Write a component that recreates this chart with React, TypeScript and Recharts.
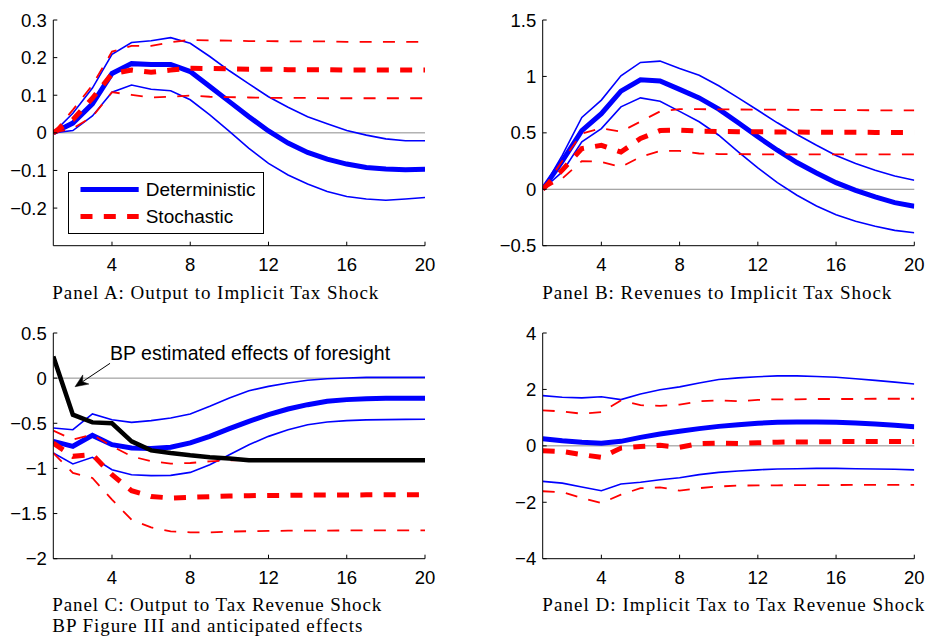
import React from 'react';
import { LineChart, Line, XAxis, YAxis, ReferenceLine, Legend } from 'recharts';

// ---------- data (horizon 1..20) ----------
const horizon = [1, 2, 3, 4, 5, 6, 7, 8, 9, 10, 11, 12, 13, 14, 15, 16, 17, 18, 19, 20];
const xTicks = [4, 8, 12, 16, 20];

// Panel A: Output to Implicit Tax Shock
const aDet = [0, 0.026, 0.077, 0.158, 0.184, 0.182, 0.182, 0.163, 0.123, 0.083, 0.043, 0.005, -0.027, -0.052, -0.07, -0.083, -0.092, -0.096, -0.098, -0.097];
const aDetHi = [0, 0.052, 0.119, 0.209, 0.24, 0.245, 0.253, 0.238, 0.203, 0.165, 0.13, 0.096, 0.068, 0.043, 0.024, 0.006, -0.006, -0.016, -0.021, -0.021];
const aDetLo = [0, 0.006, 0.045, 0.108, 0.127, 0.116, 0.112, 0.088, 0.048, 0.004, -0.041, -0.081, -0.112, -0.136, -0.156, -0.169, -0.176, -0.179, -0.176, -0.172];
const aSto = [0, 0.035, 0.092, 0.157, 0.167, 0.161, 0.167, 0.172, 0.171, 0.17, 0.169, 0.169, 0.168, 0.168, 0.168, 0.167, 0.167, 0.167, 0.167, 0.167];
const aStoHi = [0, 0.061, 0.127, 0.216, 0.231, 0.231, 0.241, 0.247, 0.246, 0.245, 0.244, 0.244, 0.243, 0.243, 0.243, 0.242, 0.242, 0.242, 0.242, 0.242];
const aStoLo = [0, 0.012, 0.043, 0.108, 0.101, 0.094, 0.096, 0.099, 0.096, 0.095, 0.094, 0.093, 0.093, 0.093, 0.092, 0.092, 0.092, 0.092, 0.092, 0.092];
const aYTicks = [-0.2, -0.1, 0, 0.1, 0.2, 0.3];

// Panel B: Revenues to Implicit Tax Shock
const bDet = [0, 0.25, 0.52, 0.67, 0.87, 0.97, 0.96, 0.885, 0.81, 0.71, 0.59, 0.465, 0.346, 0.237, 0.145, 0.059, -0.009, -0.068, -0.118, -0.151];
const bDetHi = [0, 0.3, 0.636, 0.79, 1.006, 1.124, 1.136, 1.07, 1.01, 0.917, 0.81, 0.7, 0.589, 0.485, 0.39, 0.3, 0.228, 0.169, 0.118, 0.08];
const bDetLo = [0, 0.154, 0.42, 0.538, 0.73, 0.81, 0.78, 0.69, 0.598, 0.479, 0.331, 0.189, 0.059, -0.053, -0.148, -0.225, -0.284, -0.328, -0.364, -0.385];
const bSto = [0, 0.17, 0.36, 0.39, 0.33, 0.45, 0.52, 0.524, 0.515, 0.512, 0.51, 0.509, 0.508, 0.507, 0.506, 0.505, 0.505, 0.504, 0.503, 0.503];
const bStoHi = [0, 0.25, 0.494, 0.54, 0.51, 0.6, 0.69, 0.71, 0.71, 0.708, 0.707, 0.706, 0.705, 0.704, 0.703, 0.702, 0.701, 0.7, 0.7, 0.7];
const bStoLo = [0, 0.095, 0.25, 0.243, 0.198, 0.287, 0.34, 0.34, 0.317, 0.312, 0.311, 0.31, 0.31, 0.31, 0.31, 0.31, 0.31, 0.31, 0.31, 0.31];
const bYTicks = [-0.5, 0, 0.5, 1, 1.5];

// Panel C: Output to Tax Revenue Shock
const cDet = [-0.7, -0.755, -0.634, -0.737, -0.774, -0.78, -0.766, -0.718, -0.645, -0.56, -0.478, -0.404, -0.342, -0.294, -0.257, -0.238, -0.228, -0.224, -0.224, -0.224];
const cDetHi = [-0.553, -0.571, -0.397, -0.46, -0.49, -0.471, -0.441, -0.397, -0.312, -0.22, -0.139, -0.091, -0.054, -0.024, -0.006, 0.001, 0.008, 0.009, 0.009, 0.009];
const cDetLo = [-0.83, -0.951, -0.877, -1.014, -1.07, -1.08, -1.077, -1.044, -0.959, -0.848, -0.737, -0.645, -0.571, -0.516, -0.486, -0.471, -0.462, -0.459, -0.457, -0.456];
const cSto = [-0.72, -0.866, -0.848, -1.07, -1.247, -1.31, -1.328, -1.32, -1.313, -1.305, -1.302, -1.3, -1.298, -1.296, -1.295, -1.294, -1.293, -1.292, -1.291, -1.29];
const cStoHi = [-0.582, -0.68, -0.626, -0.755, -0.866, -0.921, -0.947, -0.94, -0.921, -0.91, -0.905, -0.904, -0.903, -0.903, -0.903, -0.903, -0.903, -0.903, -0.903, -0.903];
const cStoLo = [-0.83, -1.05, -1.106, -1.346, -1.568, -1.653, -1.697, -1.708, -1.708, -1.7, -1.695, -1.692, -1.69, -1.689, -1.688, -1.687, -1.687, -1.686, -1.686, -1.686];
const cBP = [0.24, -0.405, -0.49, -0.5, -0.7, -0.8, -0.83, -0.855, -0.875, -0.89, -0.91, -0.91, -0.91, -0.91, -0.91, -0.91, -0.91, -0.91, -0.91, -0.91];
const cYTicks = [-2, -1.5, -1, -0.5, 0, 0.5];

// Panel D: Implicit Tax to Tax Revenue Shock
const dDet = [0.254, 0.18, 0.124, 0.089, 0.16, 0.3, 0.42, 0.514, 0.61, 0.69, 0.75, 0.8, 0.833, 0.845, 0.845, 0.833, 0.81, 0.774, 0.727, 0.68];
const dDetHi = [1.78, 1.72, 1.7, 1.74, 1.64, 1.84, 1.99, 2.09, 2.23, 2.35, 2.41, 2.45, 2.48, 2.48, 2.46, 2.43, 2.38, 2.32, 2.26, 2.19];
const dDetLo = [-1.26, -1.32, -1.46, -1.59, -1.35, -1.29, -1.2, -1.13, -1.02, -0.94, -0.89, -0.85, -0.82, -0.81, -0.8, -0.8, -0.81, -0.82, -0.83, -0.85];
const dSto = [-0.17, -0.2, -0.31, -0.41, -0.08, -0.02, 0.02, -0.05, 0.08, 0.1, 0.08, 0.11, 0.13, 0.14, 0.14, 0.15, 0.15, 0.15, 0.15, 0.15];
const dStoHi = [1.26, 1.22, 1.14, 1.2, 1.61, 1.44, 1.42, 1.46, 1.58, 1.61, 1.58, 1.63, 1.65, 1.65, 1.66, 1.66, 1.66, 1.67, 1.67, 1.67];
const dStoLo = [-1.61, -1.64, -1.85, -2.03, -1.73, -1.5, -1.47, -1.59, -1.5, -1.44, -1.41, -1.4, -1.4, -1.39, -1.39, -1.39, -1.38, -1.38, -1.38, -1.38];
const dYTicks = [-4, -2, 0, 2, 4];

const captions = {
  a: ['Panel A: Output to Implicit Tax Shock'],
  b: ['Panel B: Revenues to Implicit Tax Shock'],
  c: ['Panel C: Output to Tax Revenue Shock', 'BP Figure III and anticipated effects'],
  d: ['Panel D: Implicit Tax to Tax Revenue Shock'],
};
const annotationText = 'BP estimated effects of foresight';

// ---------- build tables ----------
function buildRows(det: number[], detHi: number[], detLo: number[], sto: number[], stoHi: number[], stoLo: number[], bp?: number[]) {
  return horizon.map((h, i) => {
    const r: any = { h, det: det[i], detHi: detHi[i], detLo: detLo[i], sto: sto[i], stoHi: stoHi[i], stoLo: stoLo[i] };
    if (bp) r.bp = bp[i];
    return r;
  });
}
const rowsA = buildRows(aDet, aDetHi, aDetLo, aSto, aStoHi, aStoLo);
const rowsB = buildRows(bDet, bDetHi, bDetLo, bSto, bStoHi, bStoLo);
const rowsC = buildRows(cDet, cDetHi, cDetLo, cSto, cStoHi, cStoLo, cBP);
const rowsD = buildRows(dDet, dDetHi, dDetLo, dSto, dStoHi, dStoLo);

// ---------- styles ----------
const SANS = '"Liberation Sans", Arial, Helvetica, sans-serif';
const SERIF = '"Liberation Serif", "Times New Roman", serif';
const BLUE = '#0000ff';
const RED = '#ff0000';
const DASH = '12 11.3';
const CW = 464;
const CH = 290;
const XH = 30;
const TICK = -4;

const fmt = (v: number) => (v < 0 ? '\u2212' + String(Math.abs(v)) : String(v));

function ArrowShape(p: any) {
  const { x1, y1, x2, y2 } = p;
  if ([x1, y1, x2, y2].some((v) => typeof v !== 'number' || isNaN(v))) return <g />;
  const dx = x2 - x1;
  const dy = y2 - y1;
  const len = Math.sqrt(dx * dx + dy * dy) || 1;
  const ux = dx / len;
  const uy = dy / len;
  const nx = -uy;
  const ny = ux;
  const L = 13;
  const W = 5.5;
  const bx = x2 - ux * L;
  const by = y2 - uy * L;
  const mx = x2 - ux * L * 0.7;
  const my = y2 - uy * L * 0.7;
  return (
    <g>
      <line x1={x1} y1={y1} x2={mx} y2={my} stroke="#000" strokeWidth={1} />
      <polygon points={`${x2},${y2} ${bx + nx * W},${by + ny * W} ${mx},${my} ${bx - nx * W},${by - ny * W}`} fill="#000" stroke="#000" strokeWidth={0.5} />
      <text x={x1} y={y1 - 3.5} fontFamily={SANS} fontSize={19.5} fill="#000">{annotationText}</text>
    </g>
  );
}

function LegendBox(props: any) {
  const items = (props.payload || []).filter((e: any) => e.type !== 'none');
  return (
    <svg width={196} height={62} style={{ display: 'block' }}>
      <rect x={0.5} y={0.5} width={195} height={61} fill="#fff" stroke="#000" strokeWidth={1} />
      {items.map((e: any, i: number) => {
        const y = 17.5 + i * 27;
        const dash = e.payload && e.payload.strokeDasharray;
        return (
          <g key={i}>
            <line x1={12.5} x2={70.7} y1={y} y2={y} stroke={e.color} strokeWidth={5} strokeDasharray={dash} />
            <text x={77.7} y={y + 6.8} fontFamily={SANS} fontSize={19} fill="#000">{e.value}</text>
          </g>
        );
      })}
    </svg>
  );
}

type PanelProps = {
  rows: any[];
  domain: [number, number];
  yTicks: number[];
  left: number;
  top: number;
  right: number;
  bottom: number;
  legend?: boolean;
  bp?: boolean;
  arrow?: { x1: number; y1: number; x2: number; y2: number };
};

function Panel(p: PanelProps) {
  const margin = { top: p.top, right: CW - p.right, left: 0, bottom: CH - p.bottom - XH };
  const axisStroke = { stroke: '#000', strokeWidth: 1 };
  const tickStyle = { fontSize: 18.5, fill: '#000', fontFamily: SANS };
  return (
    <LineChart width={CW} height={CH} data={p.rows} margin={margin}>
      <ReferenceLine y={0} stroke="#8c8c8c" strokeWidth={1} />
      <XAxis dataKey="h" type="number" domain={[1, 20]} ticks={xTicks} interval={0} allowDataOverflow
        height={XH} axisLine={axisStroke} tickLine={axisStroke} tickSize={TICK} tickMargin={16} tick={tickStyle} />
      <XAxis xAxisId="top" orientation="top" dataKey="h" type="number" domain={[1, 20]} ticks={xTicks} interval={0}
        height={0} axisLine={axisStroke} tickLine={axisStroke} tickSize={TICK} tick={false} />
      <YAxis type="number" domain={p.domain} ticks={p.yTicks} interval={0} allowDataOverflow width={p.left}
        axisLine={axisStroke} tickLine={axisStroke} tickSize={TICK} tickMargin={10.5} tick={tickStyle} tickFormatter={fmt} />
      <YAxis yAxisId="right" orientation="right" type="number" domain={p.domain} ticks={p.yTicks} interval={0} width={0}
        axisLine={axisStroke} tickLine={axisStroke} tickSize={TICK} tick={false} />
      <Line dataKey="detHi" stroke={BLUE} strokeWidth={1.6} dot={false} isAnimationActive={false} legendType="none" />
      <Line dataKey="detLo" stroke={BLUE} strokeWidth={1.6} dot={false} isAnimationActive={false} legendType="none" />
      <Line dataKey="det" name="Deterministic" stroke={BLUE} strokeWidth={5} dot={false} isAnimationActive={false} legendType="line" />
      <Line dataKey="stoHi" stroke={RED} strokeWidth={1.8} strokeDasharray={DASH} dot={false} isAnimationActive={false} legendType="none" />
      <Line dataKey="stoLo" stroke={RED} strokeWidth={1.8} strokeDasharray={DASH} dot={false} isAnimationActive={false} legendType="none" />
      <Line dataKey="sto" name="Stochastic" stroke={RED} strokeWidth={5} strokeDasharray={DASH} dot={false} isAnimationActive={false} legendType="line" />
      {p.bp && <Line dataKey="bp" stroke="#000" strokeWidth={4.5} dot={false} isAnimationActive={false} legendType="none" />}
      {p.arrow && (
        <ReferenceLine segment={[{ x: p.arrow.x1, y: p.arrow.y1 }, { x: p.arrow.x2, y: p.arrow.y2 }]} shape={ArrowShape} stroke="#000" />
      )}
      {p.legend && (
        <Legend layout="horizontal" verticalAlign="middle" align="center" width={196} height={62}
          wrapperStyle={{ left: 68.3, top: 171.7, width: 196, height: 62 }} content={LegendBox} />
      )}
    </LineChart>
  );
}

export default function App() {
  const cap = (lines: string[], x: number, y0: number, lens: number[]) =>
    lines.map((t, i) => (
      <text key={t} x={x} y={y0 + i * 21.5} fontFamily={SERIF} fontSize={19} fill="#000" textLength={lens[i]} lengthAdjust="spacing">{t}</text>
    ));
  return (
    <div style={{ position: 'absolute', left: 0, top: 0, width: 928, height: 636, background: '#fff', overflow: 'hidden' }}>
      <div style={{ position: 'absolute', left: 0, top: 0 }}>
        <Panel rows={rowsA} domain={[-0.3, 0.3]} yTicks={aYTicks} left={53.3} top={20} right={425} bottom={245.7} legend />
      </div>
      <div style={{ position: 'absolute', left: 464, top: 0 }}>
        <Panel rows={rowsB} domain={[-0.5, 1.5]} yTicks={bYTicks} left={78.7} top={20} right={450.3} bottom={245.7} />
      </div>
      <div style={{ position: 'absolute', left: 0, top: 318 }}>
        <Panel rows={rowsC} domain={[-2, 0.5]} yTicks={cYTicks} left={53.3} top={15} right={425} bottom={240.7} bp
          arrow={{ x1: 3.9, y1: 0.164, x2: 2.11, y2: -0.095 }} />
      </div>
      <div style={{ position: 'absolute', left: 464, top: 318 }}>
        <Panel rows={rowsD} domain={[-4, 4]} yTicks={dYTicks} left={78.7} top={15} right={450.3} bottom={240.7} />
      </div>
      <svg width={928} height={636} style={{ position: 'absolute', left: 0, top: 0, pointerEvents: 'none' }}>
        {cap(captions.a, 52.3, 298.5, [326])}
        {cap(captions.b, 542.3, 298.5, [349])}
        {cap(captions.c, 52.3, 610.5, [329, 310])}
        {cap(captions.d, 542.3, 611, [382])}
      </svg>
    </div>
  );
}
